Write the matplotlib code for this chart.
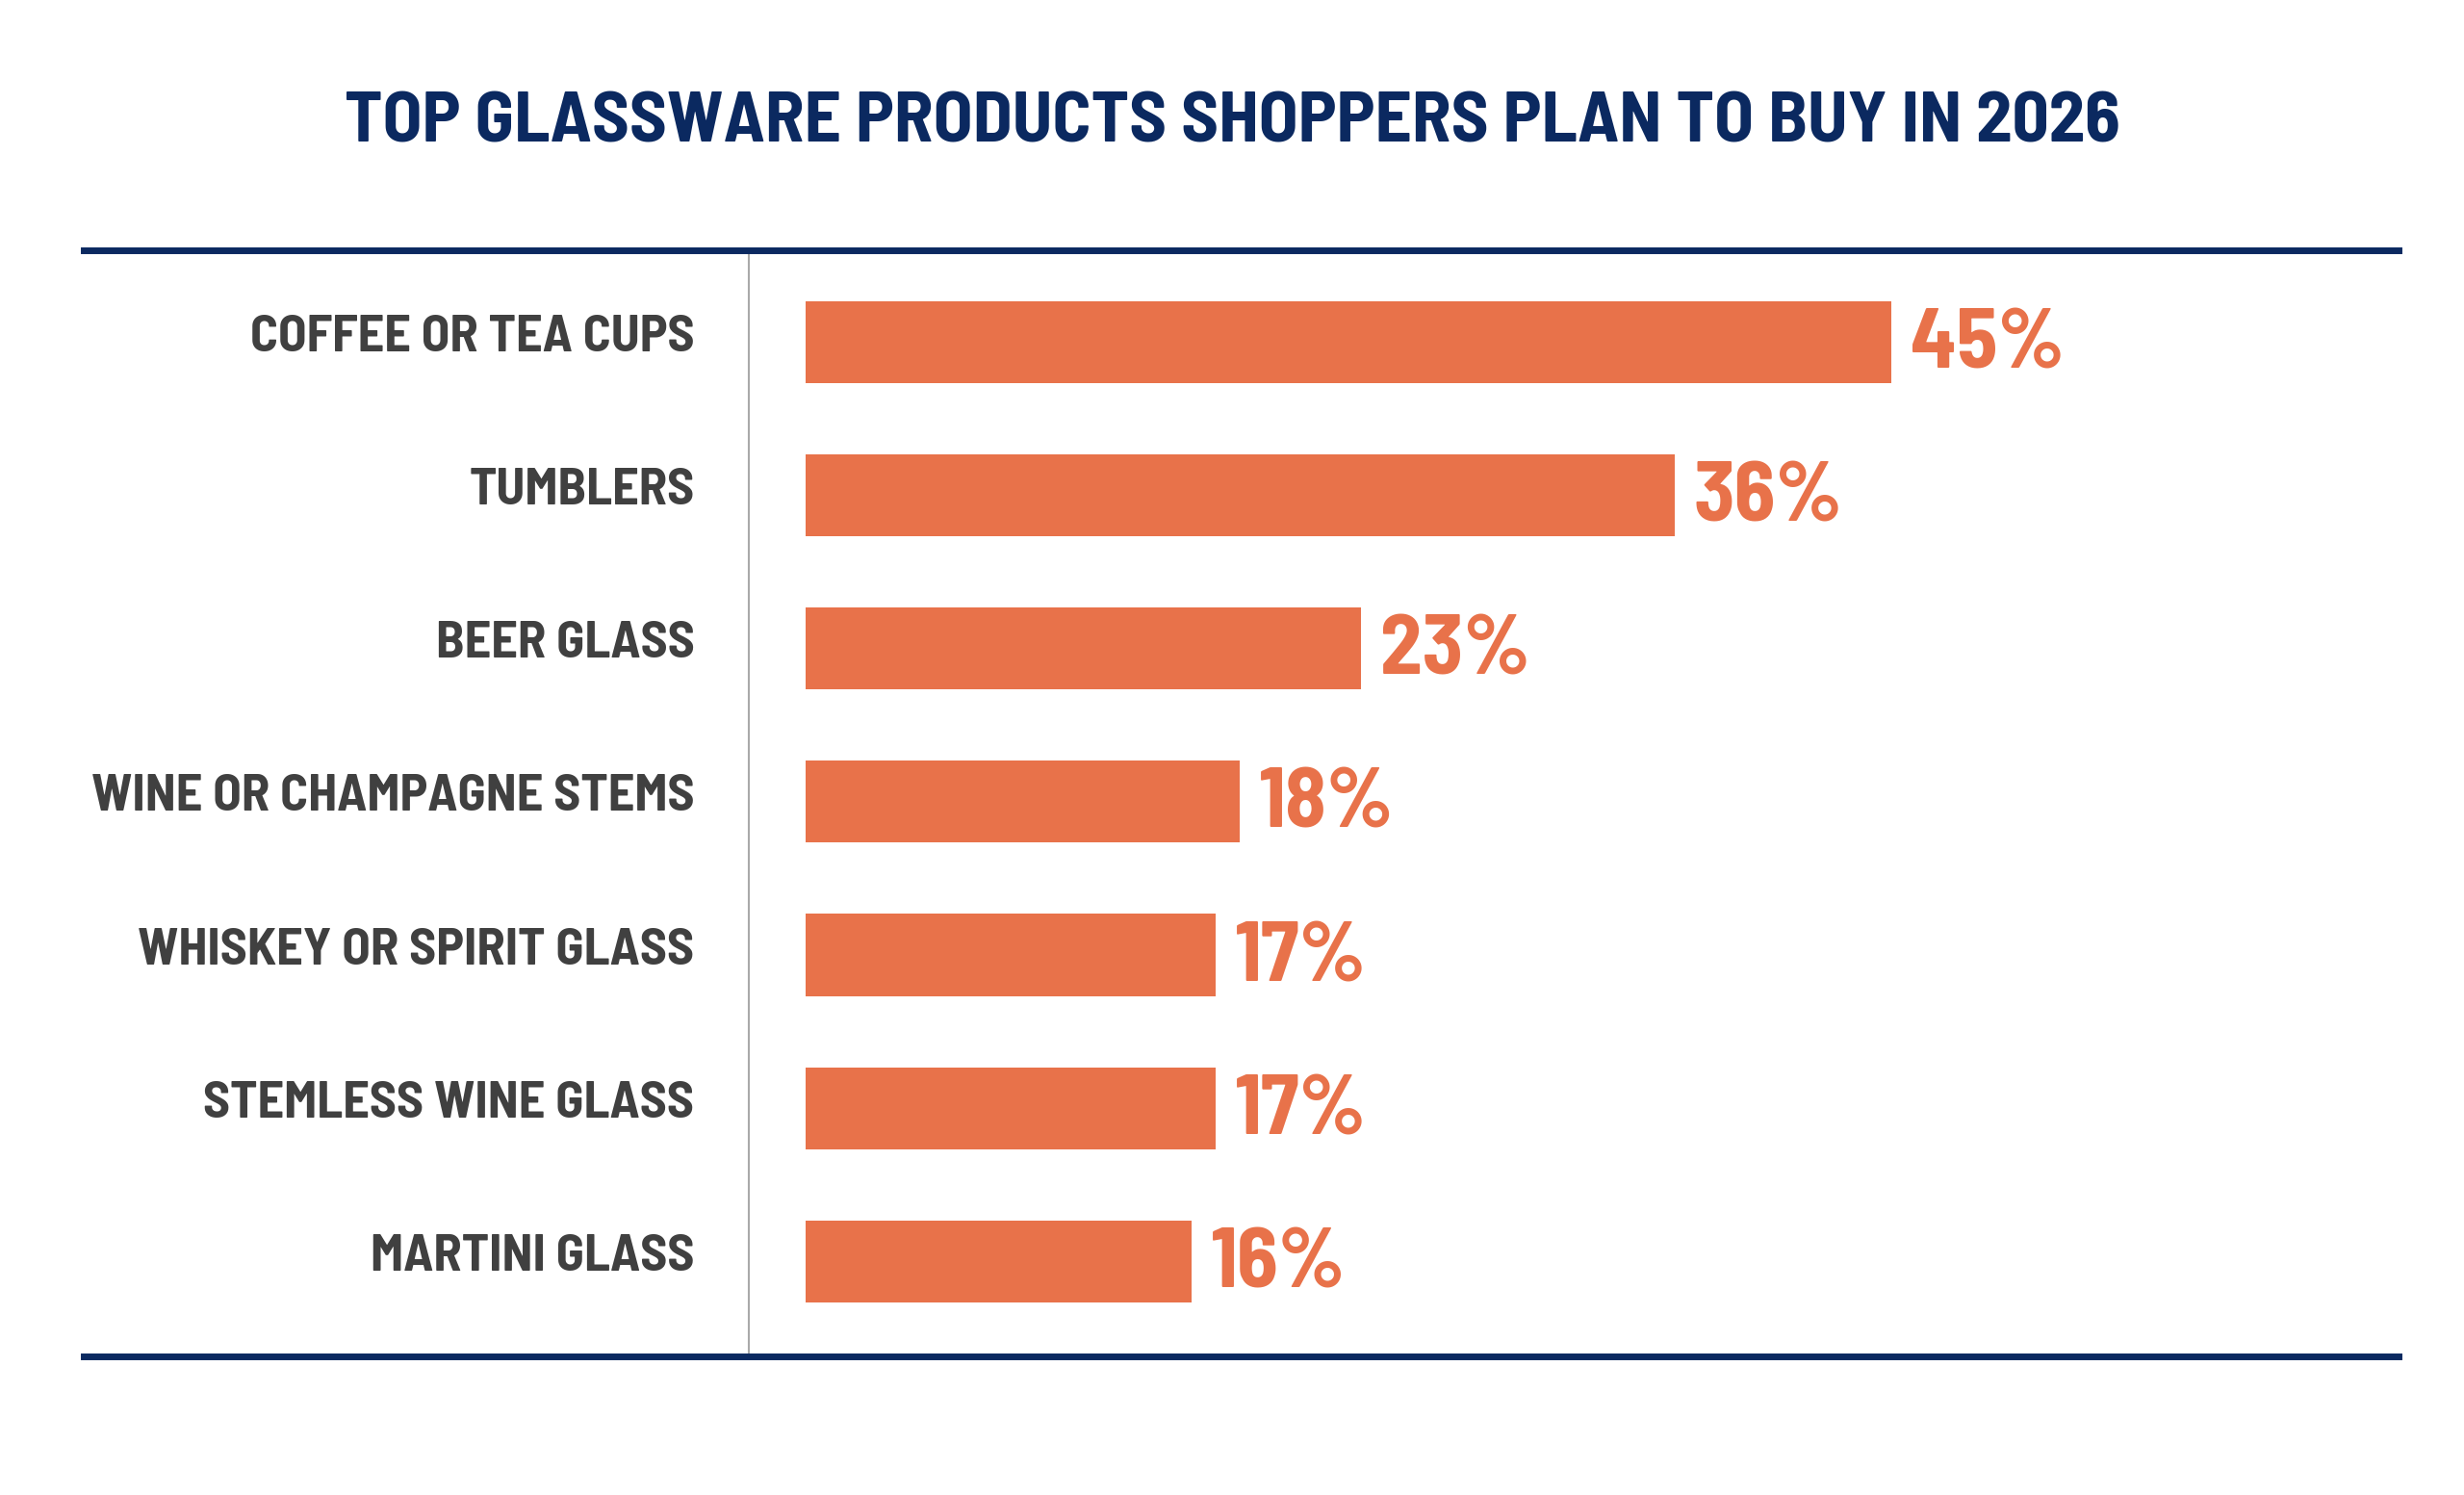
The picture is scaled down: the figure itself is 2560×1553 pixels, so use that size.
import matplotlib
matplotlib.use('Agg')
import matplotlib.pyplot as plt

# ── Data ────────────────────────────────────────────────────────────────────
categories = [
    'COFFEE OR TEA CUPS',
    'TUMBLERS',
    'BEER GLASS',
    'WINE OR CHAMPAGNE STEMS',
    'WHISKEY OR SPIRIT GLASS',
    'STEMLESS WINE GLASS',
    'MARTINI GLASS',
]
values = [45, 36, 23, 18, 17, 17, 16]
title = 'TOP GLASSWARE PRODUCTS SHOPPERS PLAN TO BUY IN 2026'

BAR_COLOR = '#E8724A'
NAVY = '#0B2960'
LABEL_COLOR = '#404040'
FONT = ['Barlow Semi Condensed', 'DejaVu Sans']

fig = plt.figure(figsize=(25.6, 15.53), dpi=100)
fig.patch.set_facecolor('white')

# axes spans the navy rules; bars start at x=0
ax = fig.add_axes([87 / 2560, 1 - 1409 / 1553, (2492 - 87) / 2560, (1409 - 260) / 1553])
ypos = list(range(len(categories)))
ax.barh(ypos, values, height=0.535, color=BAR_COLOR)
ax.set_xlim(-29.9, 66.0)
ax.set_ylim(6.62, -0.6)

# baselines placed so the capitals sit centred on each bar
for y, cat, v in zip(ypos, categories, values):
    ax.text(-4.6, y + 0.06, cat, ha='right', va='baseline', fontsize=39,
            fontweight=700, color=LABEL_COLOR, family=FONT)
    ax.text(v + 0.8, y + 0.17, f'{v}%', ha='left', va='baseline', fontsize=63,
            fontweight=700, color=BAR_COLOR, family=FONT)

ax.axvline(-2.35, color='#AAAAAA', linewidth=1.5)

for side in ['left', 'right']:
    ax.spines[side].set_visible(False)
for side in ['top', 'bottom']:
    ax.spines[side].set_color(NAVY)
    ax.spines[side].set_linewidth(5)
ax.set_xticks([])
ax.set_yticks([])

fig.text(0.5, 1 - 148 / 1553, title, ha='center', va='baseline', fontsize=54,
         fontweight=700, color=NAVY, family=FONT)

fig.savefig('out.png', dpi=100, facecolor='white')
